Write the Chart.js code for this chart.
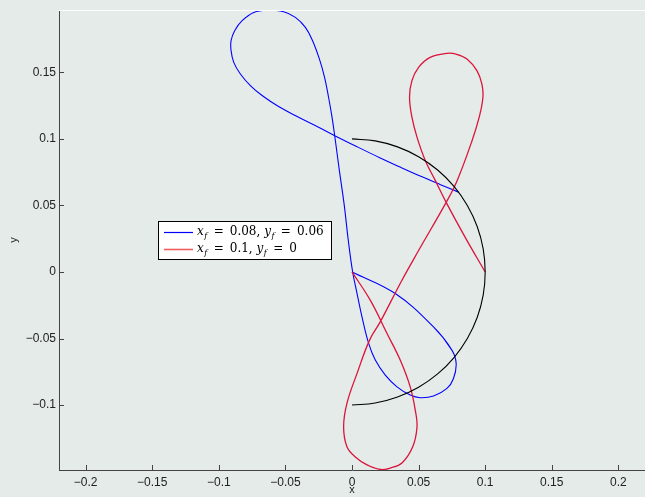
<!DOCTYPE html>
<html>
<head>
<meta charset="utf-8">
<script src="https://cdn.jsdelivr.net/npm/chart.js@4/dist/chart.umd.min.js"></script>
<style>
html,body{margin:0;padding:0;background:#e4ebe8;}
#wrap{width:645px;height:497px;position:relative;}
</style>
</head>
<body>
<div id="wrap"><canvas id="c" width="645" height="497"></canvas></div>
<script>
// ---- data ----
const xTicks = [-0.2, -0.15, -0.1, -0.05, 0, 0.05, 0.1, 0.15, 0.2];
const yTicks = [-0.1, -0.05, 0, 0.05, 0.1, 0.15];
const xRange = [-0.22, 0.22];
const yRange = [-0.1488, 0.1967];

const seriesLabels = ['x_f = 0.08, y_f = 0.06', 'x_f = 0.1, y_f = 0'];

const blueX = [0, 0.0325, 0.0612, 0.0750, 0.0782, 0.0762, 0.0713, 0.0612, 0.0512, 0.0437, 0.0338, 0.0250, 0.0175, 0.0125, 0.0075, 0.0038, 0.0005, -0.0028, -0.0058, -0.0095, -0.0125, -0.0150, -0.0176, -0.0206, -0.0245, -0.0296, -0.0350, -0.0425, -0.0513, -0.0638, -0.0738, -0.0825, -0.0881, -0.0908, -0.0908, -0.0888, -0.0838, -0.0763, -0.0675, -0.0551, -0.0401, -0.0251, -0.0133, 0.0040, 0.0212, 0.0362, 0.0512, 0.0660, 0.08];
const blueY = [0, -0.0162, -0.0413, -0.0587, -0.0687, -0.0800, -0.0875, -0.0932, -0.0945, -0.0925, -0.0863, -0.0775, -0.0662, -0.0537, -0.0338, -0.0162, 0.0000, 0.0238, 0.0500, 0.0763, 0.0988, 0.1163, 0.1313, 0.1463, 0.1601, 0.1738, 0.1838, 0.1913, 0.1956, 0.1967, 0.1950, 0.1888, 0.1813, 0.1738, 0.1663, 0.1575, 0.1488, 0.1401, 0.1326, 0.1243, 0.1163, 0.1088, 0.1026, 0.0940, 0.0857, 0.0788, 0.0721, 0.0658, 0.06];

const redX = [0, 0.0137, 0.0263, 0.0362, 0.0437, 0.0475, 0.0488, 0.0456, 0.0375, 0.0287, 0.0212, 0.0113, 0.0025, -0.0038, -0.0063, -0.0038, 0.0038, 0.0132, 0.0212, 0.0375, 0.0501, 0.0707, 0.0790, 0.0902, 0.0955, 0.0983, 0.0975, 0.0938, 0.0863, 0.0782, 0.0713, 0.0587, 0.0500, 0.0450, 0.0432, 0.0450, 0.0488, 0.0550, 0.0625, 0.0707, 0.0850, 0.1];
const redY = [0, -0.0212, -0.0462, -0.0662, -0.0863, -0.1038, -0.1165, -0.1313, -0.1435, -0.1473, -0.1484, -0.1450, -0.1390, -0.1313, -0.1163, -0.0987, -0.0762, -0.0512, -0.0375, -0.0062, 0.0163, 0.0523, 0.0688, 0.0988, 0.1163, 0.1313, 0.1413, 0.1513, 0.1601, 0.1637, 0.1643, 0.1613, 0.1538, 0.1438, 0.1313, 0.1163, 0.1013, 0.0838, 0.0688, 0.0523, 0.0260, 0];

const arcX = [0, 0.0174, 0.0342, 0.05, 0.0643, 0.0766, 0.0866, 0.0940, 0.0985, 0.1, 0.0985, 0.0940, 0.0866, 0.0766, 0.0643, 0.05, 0.0342, 0.0174, 0];
const arcY = [0.1, 0.0985, 0.0940, 0.0866, 0.0766, 0.0643, 0.05, 0.0342, 0.0174, 0, -0.0174, -0.0342, -0.05, -0.0643, -0.0766, -0.0866, -0.0940, -0.0985, -0.1];

const pts = (xs, ys) => xs.map((x, i) => ({x: x, y: ys[i]}));
const fmt = v => (v < 0 ? '\u2212' + String(Math.abs(v)) : String(v));

const BG = '#e4ebe8';
const AXIS = '#444444';
const SERIF = '"DejaVu Serif", "Liberation Serif", serif';

// draws "x_f = 0.08, ..." with italic variables and subscript f
function drawMath(ctx, str, x, y, size) {
  const parts = str.split(/([xy])_f/);
  let cx = x;
  ctx.textBaseline = 'middle';
  ctx.textAlign = 'left';
  ctx.fillStyle = '#000';
  parts.forEach((p, i) => {
    if (i % 2 === 1) {
      ctx.font = 'italic ' + size + 'px ' + SERIF;
      ctx.fillText(p, cx, y);
      cx += ctx.measureText(p).width;
      ctx.font = 'italic ' + Math.round(size * 0.7) + 'px ' + SERIF;
      ctx.fillText('f', cx + 0.5, y + size * 0.3);
      cx += ctx.measureText('f').width + 1;
    } else if (p.length) {
      ctx.font = size + 'px ' + SERIF;
      const t = p.replace(/ = /g, '\u2002=\u2002');
      ctx.fillText(t, cx, y);
      cx += ctx.measureText(t).width;
    }
  });
  return cx - x;
}

const decor = {
  id: 'decor',
  beforeDraw(chart) {
    const ctx = chart.ctx;
    ctx.save();
    ctx.fillStyle = BG;
    ctx.fillRect(0, 0, chart.width, chart.height);
    ctx.restore();
  },
  afterDraw(chart) {
    const ctx = chart.ctx;
    const a = chart.chartArea;
    const xs = chart.scales.x, ys = chart.scales.y;
    ctx.save();
    // top white line
    ctx.strokeStyle = '#ffffff';
    ctx.lineWidth = 1;
    ctx.beginPath();
    ctx.moveTo(a.left, Math.round(a.top) + 0.5);
    ctx.lineTo(a.right, Math.round(a.top) + 0.5);
    ctx.stroke();
    // inward ticks
    ctx.strokeStyle = AXIS;
    ctx.beginPath();
    xTicks.forEach(v => {
      const px = Math.round(xs.getPixelForValue(v)) + 0.5;
      ctx.moveTo(px, a.bottom);
      ctx.lineTo(px, a.bottom - 5);
    });
    yTicks.forEach(v => {
      const py = Math.round(ys.getPixelForValue(v)) + 0.5;
      ctx.moveTo(a.left, py);
      ctx.lineTo(a.left + 5, py);
    });
    ctx.stroke();
    // legend
    const L = 158.5, T = 221.5, W = 173, H = 38;
    ctx.fillStyle = '#ffffff';
    ctx.fillRect(L, T, W, H);
    ctx.strokeStyle = '#000';
    ctx.lineWidth = 1;
    ctx.strokeRect(L, T, W, H);
    const rows = [232, 249];
    const cols = ['#0000ff', '#f06060'];
    chart.data.datasets.slice(0, 2).forEach((ds, i) => {
      ctx.strokeStyle = cols[i];
      ctx.lineWidth = i === 0 ? 1.2 : 1.6;
      ctx.beginPath();
      ctx.moveTo(164, rows[i] + 0.5);
      ctx.lineTo(193, rows[i] + 0.5);
      ctx.stroke();
      drawMath(ctx, ds.label, 197, rows[i], 12);
    });
    ctx.restore();
  }
};

const lineDs = (label, data, color, width, order) => ({
  label: label, data: data, showLine: true, borderColor: color, borderWidth: width,
  pointRadius: 0, pointHoverRadius: 0, fill: false, tension: 0.4, order: order
});

new Chart(document.getElementById('c'), {
  type: 'scatter',
  data: {
    datasets: [
      lineDs(seriesLabels[0], pts(blueX, blueY), '#0000ff', 1.1, 2),
      lineDs(seriesLabels[1], pts(redX, redY), '#dc143c', 1.3, 1),
      lineDs('arc', pts(arcX, arcY), '#000000', 1.1, 0)
    ]
  },
  options: {
    responsive: false,
    animation: false,
    layout: {padding: {top: 9, right: 0, left: 0, bottom: 0}},
    plugins: {legend: {display: false}, tooltip: {enabled: false}},
    scales: {
      x: {
        type: 'linear', min: xRange[0], max: xRange[1],
        afterBuildTicks: s => { s.ticks = xTicks.map(v => ({value: v})); },
        afterFit: s => { s.height = 27; },
        grid: {display: false, drawTicks: false},
        border: {display: true, color: AXIS, width: 1},
        ticks: {padding: 5, color: '#222', font: {family: '"Liberation Sans", Arial, sans-serif', size: 12}, callback: v => fmt(v), maxRotation: 0, autoSkip: false},
        title: {display: true, text: 'x', color: '#222', font: {family: '"Liberation Sans", Arial, sans-serif', size: 11}, padding: {top: 0, bottom: 0}}
      },
      y: {
        type: 'linear', min: yRange[0], max: yRange[1],
        afterBuildTicks: s => { s.ticks = yTicks.map(v => ({value: v})); },
        afterFit: s => { s.width = 59; },
        grid: {display: false, drawTicks: false},
        border: {display: true, color: AXIS, width: 1},
        ticks: {padding: 3, color: '#222', font: {family: '"Liberation Sans", Arial, sans-serif', size: 12}, callback: v => fmt(v), autoSkip: false},
        title: {display: true, text: 'y', color: '#222', font: {family: '"Liberation Sans", Arial, sans-serif', size: 11}, padding: {top: 7, bottom: 0}}
      }
    }
  },
  plugins: [decor]
});
</script>
</body>
</html>
